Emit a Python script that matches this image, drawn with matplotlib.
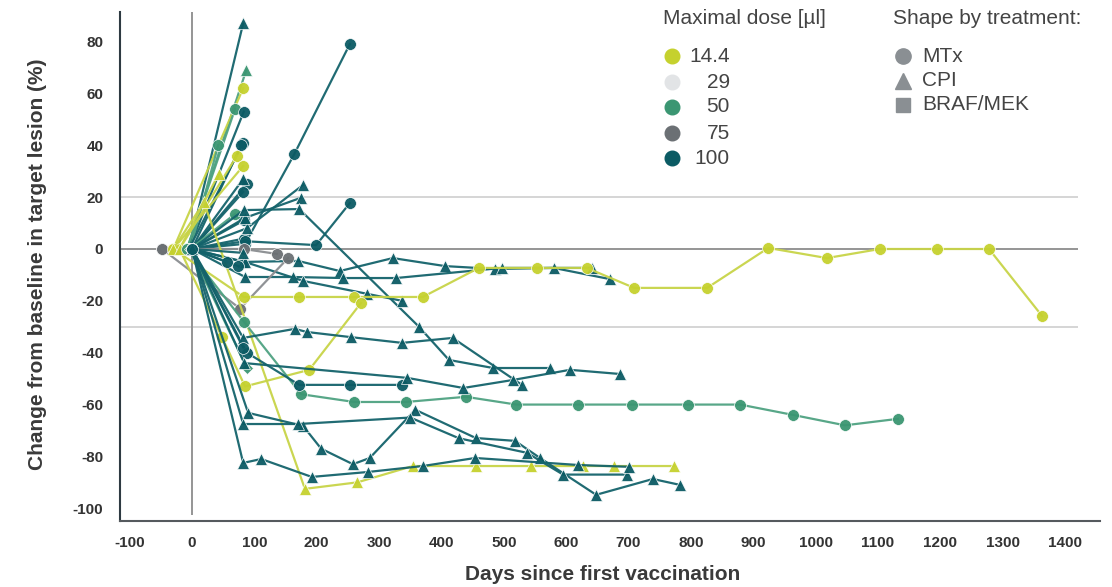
import matplotlib
matplotlib.use('Agg')
import matplotlib.pyplot as plt
from matplotlib.lines import Line2D

plt.rcParams['font.family'] = ['Liberation Sans', 'DejaVu Sans']
plt.rcParams['axes.unicode_minus'] = False

W, H = 1112, 587

# dose groups and treatment shapes
dose_levels = ['14.4', '29', '50', '75', '100']
dose_colors = ['#c5d12e', '#e2e4e6', '#3b9672', '#6b7074', '#0b5b64']
line_colors = ['#c8d448', '#e2e4e6', '#4fa282', '#8a8d90', '#14636b']
treatments = ['MTx', 'CPI', 'BRAF/MEK']
treat_markers = ['o', '^', 'D']

# one entry per patient: max dose, treatment, days, change from baseline (%)
traj_dose = ['100', '50', '14.4', '50', '100', '50', '100', '100', '14.4', '14.4',
             '100', '100', '100', '100', '100', '50', '100', '100', '100', '100',
             '100', '100', '100', '100', '75', '75', '14.4', '14.4', '14.4', '14.4',
             '50', '50', '100', '100', '100', '100', '100', '100', '100', '100',
             '100', '100']
traj_treat = ['CPI', 'CPI', 'MTx', 'MTx', 'MTx', 'MTx', 'MTx', 'MTx', 'MTx', 'MTx',
              'MTx', 'MTx', 'CPI', 'MTx', 'MTx', 'MTx', 'MTx', 'MTx', 'CPI', 'CPI',
              'CPI', 'CPI', 'CPI', 'CPI', 'MTx', 'MTx', 'MTx', 'MTx', 'CPI', 'CPI',
              'MTx', 'BRAF/MEK', 'MTx', 'CPI', 'CPI', 'MTx', 'MTx', 'CPI', 'CPI', 'CPI',
              'CPI', 'MTx']
traj_days = [
    [-5, 82], [-8, 87], [-30, 82], [-8, 69], [-5, 83], [-3, 42], [-5, 82], [0, 79],
    [-20, 72], [-30, 82], [0, 88], [0, 82], [0, 82], [0, 83], [0, 83], [-3, 69],
    [0, 85, 164, 253],
    [0, 85, 199, 253],
    [0, 88, 178],
    [0, 85, 174],
    [0, 83, 172, 364, 412, 483, 574],
    [0, 82, 170, 237, 322, 406, 486, 580, 670],
    [0, 85, 162, 242, 327, 497, 641],
    [0, 85, 178, 281, 337],
    [-48, 83, 136],
    [-48, 77, 154],
    [-30, 83, 172, 260, 370, 460, 553, 633, 709, 826, 924, 1018, 1103, 1195, 1278, 1363],
    [-20, 48, 85, 188, 271],
    [-30, 19, 181, 265, 354, 455, 544, 627, 677, 773],
    [-20, 43],
    [-8, 83, 175, 260, 343, 439, 520, 619, 706, 795, 879, 964, 1047, 1132],
    [-3, 88],
    [0, 88, 172, 253, 337],
    [0, 82, 165, 184, 255, 337, 418, 529],
    [0, 84, 345, 435, 515, 606, 686],
    [0, 56], [0, 74], [0, 82],
    [0, 90, 178, 207, 258, 285, 358, 455, 518, 558, 648, 739, 783],
    [0, 82, 170, 350, 428, 537, 595, 698],
    [0, 82, 111, 192, 282, 370, 454, 619, 701],
    [0, 82],
]
traj_change = [
    [0, 87], [0, 69], [0, 62], [0, 54], [0, 53], [0, 40], [0, 41], [0, 40],
    [0, 36], [0, 32], [0, 25], [0, 22], [0, 27], [0, 11], [0, 4], [0, 13.5],
    [0, 2, 36.6, 79],
    [0, 3, 1.5, 17.7],
    [0, 8, 24.7],
    [0, 12, 19.7],
    [0, 15, 15.4, -30, -42.8, -45.9, -45.9],
    [0, -5, -4.6, -8.5, -3.5, -6.6, -7.7, -7.3, -11.6],
    [0, -10.8, -10.8, -11.2, -11.2, -7.3, -7.3],
    [0, -5, -12.3, -17.3, -20],
    [0, 0, -1.9],
    [0, -23, -3.5],
    [0, -18.5, -18.5, -18.5, -18.5, -7.3, -7.3, -7.3, -15, -15, 0.4, -3.5, 0, 0, 0, -25.8],
    [0, -34, -53, -46.6, -20.8],
    [0, 18, -92.5, -90, -83.7, -83.7, -83.7, -83.7, -83.7, -83.7],
    [0, 29],
    [0, -28, -56, -59, -59, -57, -60, -60, -60, -60, -60, -64, -68, -65.5],
    [0, -46],
    [0, -40, -52.4, -52.4, -52.4],
    [0, -34.3, -30.8, -32, -34, -36.2, -34.3, -52.4],
    [0, -44, -49.7, -53.6, -50.5, -46.6, -48.2],
    [0, -5], [0, -6.6], [0, -1.5],
    [0, -63.2, -68.2, -77, -83, -80.6, -62, -72.9, -74, -80.6, -94.8, -88.7, -91],
    [0, -67.5, -67.5, -65, -73, -78.6, -87, -87],
    [0, -82.5, -81, -87.9, -86, -83.7, -80.6, -83.3, -84],
    [0, -38],
]

x_ticks = list(range(-100, 1401, 100))
y_ticks = list(range(-100, 81, 20))

fig = plt.figure(figsize=(W / 100, H / 100), dpi=100)
ax = fig.add_axes([120 / W, 66 / H, 980 / W, 509 / H])
ax.set_xlim(-115.5, 1456)
ax.set_ylim(-104.9, 91.4)

# reference lines
ax.hlines([20, -30], -115.5, 1421, color='#d2d2d2', lw=1.3, zorder=1)
ax.hlines(0, -115.5, 1421, color='#8c8c8c', lw=1.3, zorder=1)
ax.vlines(0, -102.5, 91.4, color='#8c8c8c', lw=1.3, zorder=1)

msize = {'MTx': 8.5, 'CPI': 9, 'BRAF/MEK': 6.5}
for dose, treat, days, change in zip(traj_dose, traj_treat, traj_days, traj_change):
    i = dose_levels.index(dose)
    ax.plot(days, change, color=line_colors[i], lw=1.6, zorder=2,
            marker=treat_markers[treatments.index(treat)], markersize=msize[treat],
            markerfacecolor=dose_colors[i], markeredgecolor='white', markeredgewidth=0.5,
            alpha=0.95)

for s in ['top', 'right']:
    ax.spines[s].set_visible(False)
ax.spines['left'].set_color('#2e3a42')
ax.spines['left'].set_linewidth(1.5)
ax.spines['bottom'].set_color('#555a5e')
ax.spines['bottom'].set_linewidth(1.5)

ax.set_xticks(x_ticks)
ax.set_yticks(y_ticks)
ax.tick_params(length=0, labelsize=11, labelcolor='#333333')
ax.tick_params(axis='y', pad=12)
ax.tick_params(axis='x', pad=11)
for lab in ax.get_xticklabels() + ax.get_yticklabels():
    lab.set_fontweight('bold')

fig.text(603 / W, 1 - 575 / H, 'Days since first vaccination', ha='center', va='center',
         fontsize=15, fontweight='bold', color='#3a3a3a')
fig.text(38 / W, 1 - 264 / H, 'Change from baseline in target lesion (%)', ha='center',
         va='center', rotation=90, fontsize=15, fontweight='bold', color='#3a3a3a')

# legends drawn by hand
txt_color = '#444444'
fig.text(663 / W, 1 - 18 / H, 'Maximal dose [µl]', ha='left', va='center', fontsize=15, color=txt_color)
dose_rows = [56, 82, 107, 133, 158]
for lvl, col, yy in zip(dose_levels, dose_colors, dose_rows):
    fig.add_artist(Line2D([672 / W], [1 - yy / H], transform=fig.transFigure, marker='o',
                          markersize=10.5, color=col, linestyle='none'))
    fig.text(730 / W, 1 - yy / H, lvl, ha='right', va='center', fontsize=15, color=txt_color)

fig.text(893 / W, 1 - 18 / H, 'Shape by treatment:', ha='left', va='center', fontsize=15, color=txt_color)
treat_rows = [56, 81, 105]
leg_markers = ['o', '^', 's']
leg_sizes = [11, 12, 10.5]
for name, mk, sz, yy in zip(treatments, leg_markers, leg_sizes, treat_rows):
    fig.add_artist(Line2D([903 / W], [1 - yy / H], transform=fig.transFigure, marker=mk,
                          markersize=sz, color='#8a8f93', linestyle='none'))
    fig.text(922 / W, 1 - yy / H, name, ha='left', va='center', fontsize=15, color=txt_color)

fig.savefig('out.png', dpi=100)
